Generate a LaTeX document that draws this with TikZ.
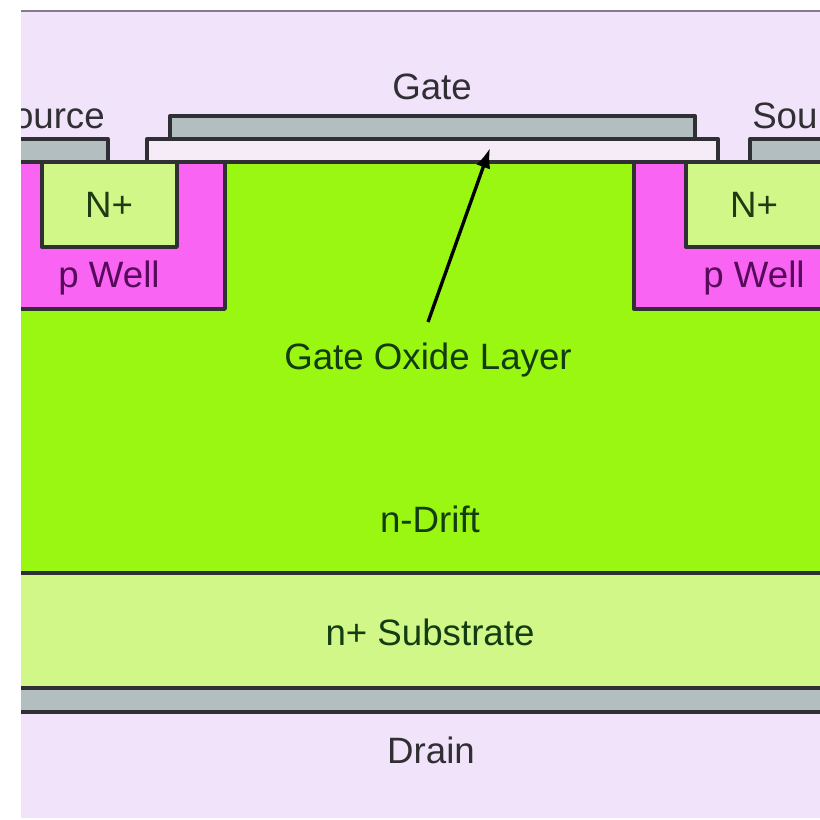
\documentclass[tikz,border=0pt]{standalone}
\usepackage{fontspec}
\usetikzlibrary{arrows.meta}
\setmainfont{Liberation Sans}
\definecolor{bgLilac}{RGB}{241,227,250}
\definecolor{driftGreen}{RGB}{153,247,17}
\definecolor{substrateGreen}{RGB}{208,247,135}
\definecolor{wellPink}{RGB}{250,100,243}
\definecolor{metalGrey}{RGB}{178,190,192}
\definecolor{oxideWhite}{RGB}{245,236,248}
\definecolor{edgeDark}{RGB}{48,48,52}
\tikzset{
  layer/.style={draw=edgeDark,line width=2.5pt,line join=round},
  lbl/.style={inner sep=0.75pt,font=\fontsize{27.5}{30}\selectfont},
}
\begin{document}
\begin{tikzpicture}[x=0.75pt,y=0.75pt,yscale=-1,xscale=1]
\useasboundingbox (0,0) rectangle (820,819);
%Shape: Rectangle background
\fill [white] (0,0) rectangle (820,819);
\fill [bgLilac] (21,11) rectangle (820,818);
\draw [color={rgb, 255:red, 135; green, 120; blue, 140 },line width=1.5pt] (21,11) -- (820,11);

\begin{scope}
\clip (21,11) rectangle (820,818);
%Shape: Rectangle n-Drift
\fill [driftGreen] (10,162) rectangle (830,573);
%Shape: Rectangle p Well
\draw [layer,fill=wellPink] (10,162) -- (225,162) -- (225,309) -- (10,309) -- cycle;
\draw [layer,fill=wellPink] (830,162) -- (634,162) -- (634,309) -- (830,309) -- cycle;
%Shape: Rectangle N+
\draw [layer,fill=substrateGreen] (42,162) -- (177,162) -- (177,247) -- (42,247) -- cycle;
\draw [layer,fill=substrateGreen] (830,162) -- (686,162) -- (686,247) -- (830,247) -- cycle;
%Shape: Rectangle source metal
\draw [layer,fill=metalGrey] (10,139) -- (108,139) -- (108,162) -- (10,162) -- cycle;
\draw [layer,fill=metalGrey] (830,139) -- (750,139) -- (750,162) -- (830,162) -- cycle;
%Shape: Rectangle gate and oxide
\draw [layer,fill=metalGrey] (170,116) -- (695,116) -- (695,139) -- (170,139) -- cycle;
\draw [layer,fill=oxideWhite] (147,139) -- (718,139) -- (718,162) -- (147,162) -- cycle;
%Straight Lines
\draw [layer] (10,162) -- (830,162);
%Shape: Rectangle n+ Substrate
\draw [layer,fill=substrateGreen] (10,573) rectangle (830,688);
%Shape: Rectangle drain metal
\draw [layer,fill=metalGrey] (10,688) rectangle (830,712);
% Text Node
\node (srcL) [lbl,color=edgeDark,anchor=base east] at (106,128) {Source};
% Text Node
\node (srcR) [lbl,color=edgeDark,anchor=base west] at (751,128) {Source};
\end{scope}

% Text Node
\node (gate) [lbl,color=edgeDark] at (432,87) {Gate};
% Text Node
\node (nLeft) [lbl,color={rgb, 255:red, 30; green, 60; blue, 20 }] at (109,205) {N+};
% Text Node
\node (nRight) [lbl,color={rgb, 255:red, 30; green, 60; blue, 20 }] at (754,205) {N+};
% Text Node
\node (wellLeft) [lbl,color={rgb, 255:red, 85; green, 10; blue, 90 }] at (109,278) {p Well};
% Text Node
\node (wellRight) [lbl,color={rgb, 255:red, 85; green, 10; blue, 90 }] at (754,278) {p Well};
% Text Node
\node (oxide) [lbl,color={rgb, 255:red, 20; green, 60; blue, 20 }] at (428,360) {Gate Oxide Layer};
% Text Node
\node (drift) [lbl,color={rgb, 255:red, 20; green, 60; blue, 20 }] at (430,519) {n-Drift};
% Text Node
\node (subst) [lbl,color={rgb, 255:red, 20; green, 60; blue, 20 }] at (430,632) {n+ Substrate};
% Text Node
\node (drain) [lbl,color=edgeDark] at (431,750) {Drain};

\coordinate (oxideTail) at (428,322);
\coordinate (oxideTip) at (490,148);
%Straight Lines
\draw [-{Latex[length=15pt,width=11pt]},color=black,line width=2.5pt] (oxideTail) -- (oxideTip);
\end{tikzpicture}
\end{document}
